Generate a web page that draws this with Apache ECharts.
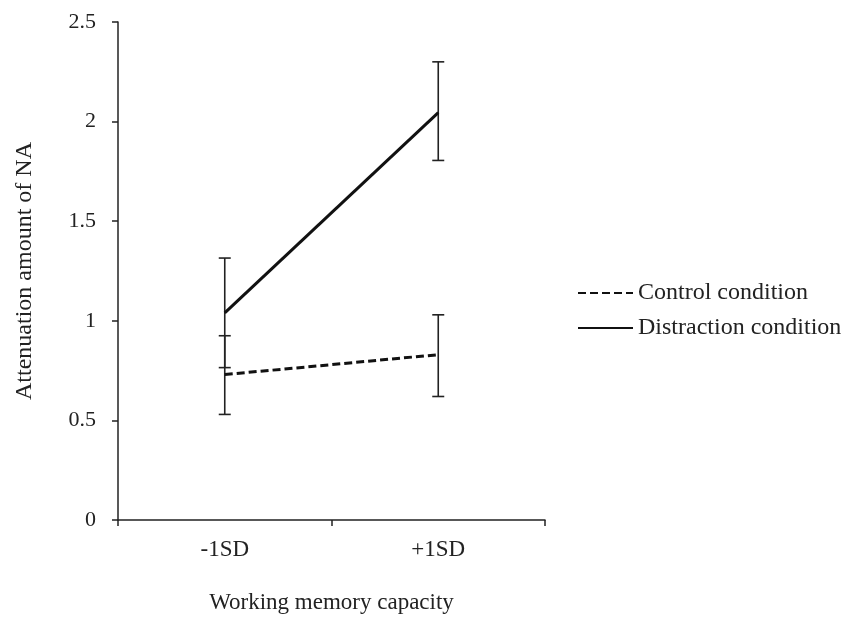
<!DOCTYPE html>
<html>
<head>
<meta charset="utf-8">
<script src="https://cdn.jsdelivr.net/npm/echarts@6/dist/echarts.min.js"></script>
<style>
  html, body { margin: 0; padding: 0; background: #fff; }
  #chart { width: 862px; height: 617px; }
</style>
</head>
<body>
<div id="chart"></div>
<script>
  // values
  const categories = ['-1SD', '+1SD'];
  const controlMean = [0.73, 0.83];
  const controlLow = [0.53, 0.62];
  const controlHigh = [0.925, 1.03];
  const distractMean = [1.04, 2.045];
  const distractLow = [0.765, 1.805];
  const distractHigh = [1.315, 2.3];

  const serif = 'Liberation Serif';

  const errorData = (low, high) => categories.map((c, i) => [i, low[i], high[i]]);

  // vertical bar with caps
  const renderError = (params, api) => {
    const x = api.value(0);
    const lo = api.coord([x, api.value(1)]);
    const hi = api.coord([x, api.value(2)]);
    const cap = 6;
    const style = { stroke: '#222', lineWidth: 1.6 };
    return {
      type: 'group',
      children: [
        { type: 'line', shape: { x1: lo[0], y1: lo[1], x2: hi[0], y2: hi[1] }, style },
        { type: 'line', shape: { x1: hi[0] - cap, y1: hi[1], x2: hi[0] + cap, y2: hi[1] }, style },
        { type: 'line', shape: { x1: lo[0] - cap, y1: lo[1], x2: lo[0] + cap, y2: lo[1] }, style },
      ],
    };
  };

  const myChart = echarts.init(document.getElementById('chart'));
  myChart.setOption({
    animation: false,
    textStyle: { fontFamily: serif },
    grid: { left: 118, right: 317, top: 22, bottom: 97, outerBoundsMode: 'none' },
    legend: {
      data: ['Control condition', 'Distraction condition'],
      orient: 'vertical',
      left: 572,
      top: 276,
      itemWidth: 55,
      itemHeight: 14,
      itemGap: 11,
      itemStyle: { opacity: 0 },
      textStyle: { fontFamily: serif, fontSize: 24, color: '#222' },
    },
    xAxis: {
      type: 'category',
      data: categories,
      name: 'Working memory capacity',
      nameLocation: 'middle',
      nameGap: 71,
      nameTextStyle: { fontFamily: serif, fontSize: 23, color: '#222' },
      axisLine: { lineStyle: { color: '#222', width: 1.5 } },
      axisTick: { show: true, length: 6, lineStyle: { color: '#222', width: 1.5 } },
      axisLabel: { fontFamily: serif, fontSize: 23, color: '#222', margin: 18 },
    },
    yAxis: {
      type: 'value',
      min: 0,
      max: 2.5,
      interval: 0.5,
      name: 'Attenuation amount of NA',
      nameLocation: 'middle',
      nameGap: 81,
      nameTextStyle: { fontFamily: serif, fontSize: 24, color: '#222' },
      axisLine: { show: true, lineStyle: { color: '#222', width: 1.5 } },
      axisTick: { show: true, length: 6, lineStyle: { color: '#222', width: 1.5 } },
      axisLabel: { fontFamily: serif, fontSize: 22, color: '#222', margin: 22 },
      splitLine: { show: false },
    },
    series: [
      {
        name: 'Control condition',
        type: 'line',
        data: controlMean,
        symbol: 'none',
        lineStyle: { color: '#111', width: 3, type: [8, 4] },
        itemStyle: { color: '#111' },
        z: 3,
      },
      {
        name: 'Distraction condition',
        type: 'line',
        data: distractMean,
        symbol: 'none',
        lineStyle: { color: '#111', width: 3 },
        itemStyle: { color: '#111' },
        z: 3,
      },
      {
        name: 'controlError',
        type: 'custom',
        data: errorData(controlLow, controlHigh),
        renderItem: renderError,
        z: 2,
      },
      {
        name: 'distractError',
        type: 'custom',
        data: errorData(distractLow, distractHigh),
        renderItem: renderError,
        z: 2,
      },
    ],
  });
</script>
</body>
</html>
